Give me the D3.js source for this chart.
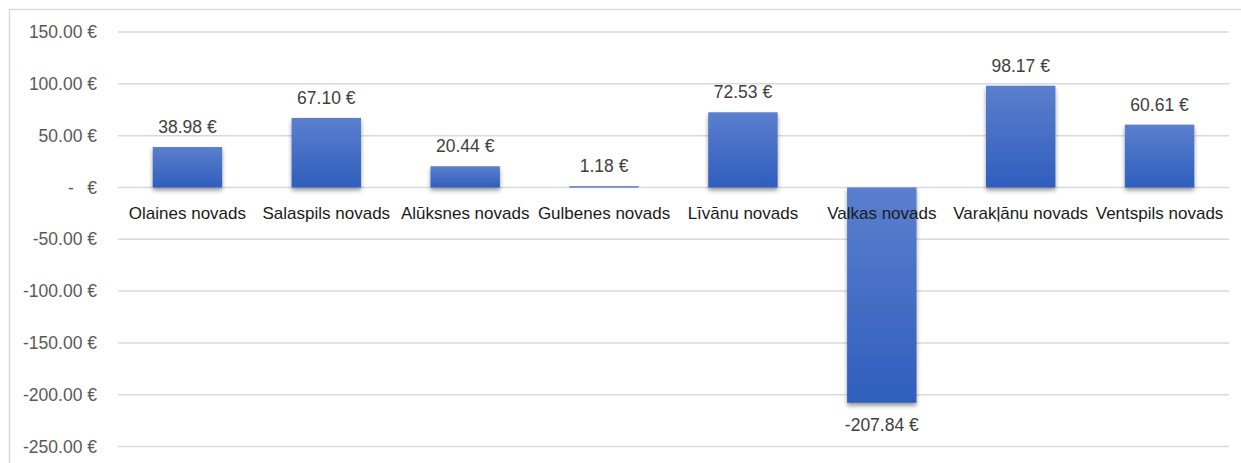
<!DOCTYPE html>
<html>
<head>
<meta charset="utf-8">
<script src="https://cdn.jsdelivr.net/npm/d3@7"></script>
<style>
  body { margin: 0; background: #fff; }
  text { font-family: "Liberation Sans", Arial, sans-serif; }
</style>
</head>
<body>
<div id="chart"></div>
<script>
const svgWidth = 1241;
const svgHeight = 463;

// chart data
var categories = ["Olaines novads", "Salaspils novads", "Alūksnes novads", "Gulbenes novads",
  "Līvānu novads", "Valkas novads", "Varakļānu novads", "Ventspils novads"];
var values = [38.98, 67.10, 20.44, 1.18, 72.53, -207.84, 98.17, 60.61];
var tickValues = [150, 100, 50, 0, -50, -100, -150, -200, -250];

var margin = { top: 32, left: 118, right: 12 };
var plotRight = 1229;

var svg = d3.select("#chart")
  .append("svg")
  .attr("width", svgWidth)
  .attr("height", svgHeight);

var defs = svg.append("defs");
var grad = defs.append("linearGradient")
  .attr("id", "barGrad")
  .attr("x1", 0).attr("y1", 0).attr("x2", 0).attr("y2", 1);
grad.append("stop").attr("offset", "0%").attr("stop-color", "#5b7fcd");
grad.append("stop").attr("offset", "100%").attr("stop-color", "#2f5ebd");

var shadow = defs.append("filter")
  .attr("id", "shadow")
  .attr("x", "-20%").attr("y", "-20%").attr("width", "140%").attr("height", "160%");
shadow.append("feDropShadow")
  .attr("dx", 0).attr("dy", 3)
  .attr("stdDeviation", 2.2)
  .attr("flood-color", "#000")
  .attr("flood-opacity", 0.4);

// outer chart border
svg.append("rect")
  .attr("x", 9.5).attr("y", 9.5)
  .attr("width", 1260).attr("height", 480)
  .attr("fill", "none")
  .attr("stroke", "#d9d9d9")
  .attr("stroke-width", 1.5);

var x = d3.scaleBand()
  .domain(categories)
  .range([margin.left, plotRight])
  .paddingInner(0.5)
  .paddingOuter(0.25);

var y = d3.scaleLinear()
  .domain([-250, 150])
  .range([446.5, 32]);

// gridlines
svg.append("g")
  .selectAll("line")
  .data(tickValues)
  .enter()
  .append("line")
  .attr("x1", margin.left)
  .attr("x2", plotRight)
  .attr("y1", d => y(d))
  .attr("y2", d => y(d))
  .attr("stroke", "#d9d9d9")
  .attr("stroke-width", 1.5);

// plain hyphen for negatives, like the original
var fmt = d => d.toFixed(2);

// y tick labels
var yLabels = svg.append("g");
tickValues.forEach(function(t) {
  if (t === 0) {
    yLabels.append("text")
      .attr("x", 71).attr("y", y(t)).attr("dy", "0.35em")
      .attr("text-anchor", "middle")
      .attr("fill", "#595959").style("font-size", "17.5px")
      .text("-");
    yLabels.append("text")
      .attr("x", 97).attr("y", y(t)).attr("dy", "0.35em")
      .attr("text-anchor", "end")
      .attr("fill", "#595959").style("font-size", "17.5px")
      .text("€");
  } else {
    yLabels.append("text")
      .attr("x", 97).attr("y", y(t)).attr("dy", "0.35em")
      .attr("text-anchor", "end")
      .attr("fill", "#595959").style("font-size", "17.5px")
      .text(fmt(t) + " €");
  }
});

// bars
svg.append("g")
  .selectAll("rect")
  .data(values)
  .enter()
  .append("rect")
  .attr("x", (d, i) => x(categories[i]))
  .attr("width", x.bandwidth())
  .attr("y", d => y(Math.max(0, d)))
  .attr("height", d => Math.abs(y(d) - y(0)))
  .attr("fill", "url(#barGrad)")
  .attr("filter", "url(#shadow)");

// category labels
svg.append("g")
  .selectAll("text")
  .data(categories)
  .enter()
  .append("text")
  .attr("x", d => x(d) + x.bandwidth() / 2)
  .attr("y", 219)
  .attr("text-anchor", "middle")
  .attr("fill", "#1a1a1a")
  .style("font-size", "17px")
  .text(d => d);

// value labels
svg.append("g")
  .selectAll("text")
  .data(values)
  .enter()
  .append("text")
  .attr("x", (d, i) => x(categories[i]) + x.bandwidth() / 2)
  .attr("y", d => d >= 0 ? y(d) - 14 : y(d) + 28)
  .attr("text-anchor", "middle")
  .attr("fill", "#404040")
  .style("font-size", "17.5px")
  .text(d => fmt(d) + " €");
</script>
</body>
</html>
